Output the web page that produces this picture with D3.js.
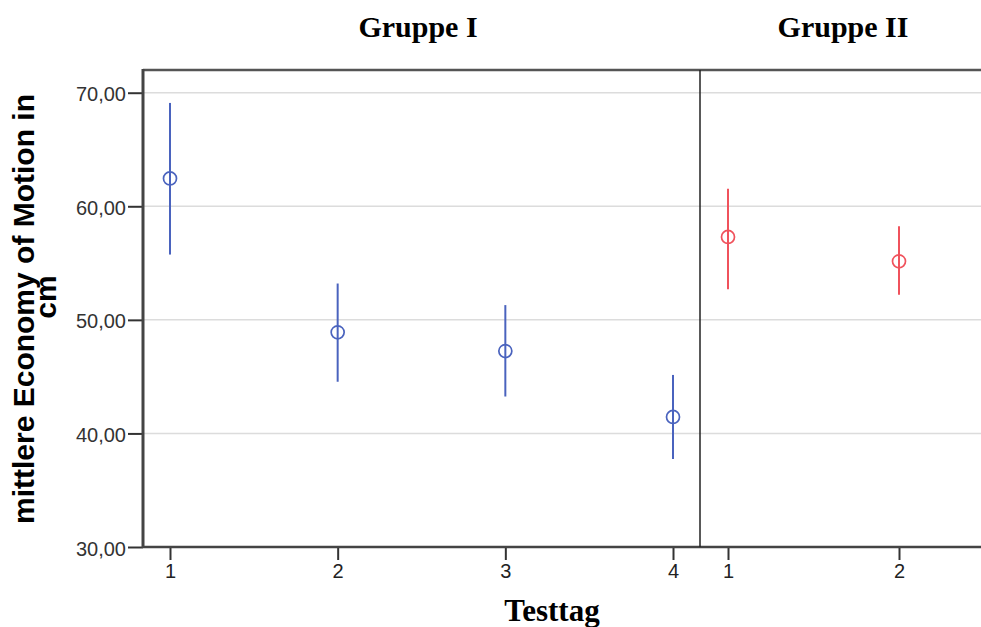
<!DOCTYPE html>
<html>
<head>
<meta charset="utf-8">
<script src="https://cdn.jsdelivr.net/npm/d3@7"></script>
<style>
  html, body { margin: 0; padding: 0; background: #fff; }
  svg { display: block; }
</style>
</head>
<body>
<svg id="chart" width="981" height="627"></svg>
<script>
// Testtag categories per group
const group1Days = ["1", "2", "3", "4"];
const group2Days = ["1", "2"];

// mean and 95% CI bounds (cm)
const group1Mean  = [62.45, 48.9, 47.25, 41.45];
const group1Lower = [55.75, 44.55, 43.25, 37.75];
const group1Upper = [69.1, 53.2, 51.3, 45.15];

const group2Mean  = [57.3, 55.15];
const group2Lower = [52.7, 52.2];
const group2Upper = [61.55, 58.25];

const groupTitles = ["Gruppe I", "Gruppe II"];
const yTicks = [30, 40, 50, 60, 70];

(function () {
const svg = d3.select("#chart");
const W = 981;
const plotTop = 70, plotBottom = 547;
const p1Left = 143, p1Right = 700;
const p2Left = 700;
const sans = "Arial, 'Liberation Sans', sans-serif";
const serif = "'Times New Roman', 'Liberation Serif', serif";

const y = d3.scaleLinear().domain([30, 72]).range([plotBottom, plotTop]);
const fmt = v => d3.format(".2f")(v).replace(".", ",");

const x1 = d3.scalePoint().domain(group1Days).range([p1Left, p1Right]).padding(0.161);
const x2 = d3.scalePoint().domain(group2Days).range([p2Left + 28, p2Left + 199]);

// horizontal gridlines across both panels
svg.append("g")
  .selectAll("line")
  .data(yTicks.filter(t => t > 30))
  .join("line")
  .attr("x1", p1Left).attr("x2", W)
  .attr("y1", d => y(d)).attr("y2", d => y(d))
  .attr("stroke", "#dcdcdc").attr("stroke-width", 1.5);

// y axis
const yAxis = svg.append("g")
  .attr("transform", `translate(${p1Left},0)`)
  .call(d3.axisLeft(y).tickValues(yTicks).tickFormat(fmt).tickSize(15).tickPadding(2));
yAxis.select(".domain").remove();
yAxis.selectAll(".tick line").attr("stroke", "#333").attr("stroke-width", 2);
yAxis.selectAll(".tick text")
  .attr("fill", "#333").attr("font-family", sans)
  .attr("font-size", 20).attr("dy", "0.4em");

// x axes
function xAxis(scale, ticks) {
  const g = svg.append("g")
    .attr("transform", `translate(0,${plotBottom})`)
    .call(d3.axisBottom(scale).tickValues(ticks).tickSize(13).tickPadding(4));
  g.select(".domain").remove();
  g.selectAll(".tick line").attr("stroke", "#333").attr("stroke-width", 2);
  g.selectAll(".tick text")
    .attr("fill", "#222").attr("font-family", sans)
    .attr("font-size", 20);
}
xAxis(x1, group1Days);
xAxis(x2, group2Days);

// frame
svg.append("line").attr("x1", p1Left).attr("x2", W).attr("y1", plotTop).attr("y2", plotTop)
  .attr("stroke", "#555").attr("stroke-width", 2.5);
svg.append("line").attr("x1", p1Left).attr("x2", W).attr("y1", plotBottom).attr("y2", plotBottom)
  .attr("stroke", "#444").attr("stroke-width", 2.5);
svg.append("line").attr("x1", p1Left).attr("x2", p1Left).attr("y1", plotTop - 1).attr("y2", plotBottom + 1)
  .attr("stroke", "#444").attr("stroke-width", 3);
svg.append("line").attr("x1", p2Left).attr("x2", p2Left).attr("y1", plotTop).attr("y2", plotBottom)
  .attr("stroke", "#222").attr("stroke-width", 1.5);

// error bars with mean markers
function drawSeries(scale, days, mean, lower, upper, color) {
  const data = days.map((d, i) => ({ d, m: mean[i], lo: lower[i], hi: upper[i] }));
  const g = svg.append("g");
  g.selectAll("line.err").data(data).join("line")
    .attr("class", "err")
    .attr("x1", d => scale(d.d)).attr("x2", d => scale(d.d))
    .attr("y1", d => y(d.hi)).attr("y2", d => y(d.lo))
    .attr("stroke", color).attr("stroke-width", 2);
  g.selectAll("circle").data(data).join("circle")
    .attr("cx", d => scale(d.d)).attr("cy", d => y(d.m))
    .attr("r", 6.5)
    .attr("fill", "none").attr("stroke", color).attr("stroke-width", 1.7);
}
drawSeries(x1, group1Days, group1Mean, group1Lower, group1Upper, "#4a63be");
drawSeries(x2, group2Days, group2Mean, group2Lower, group2Upper, "#f0525c");

// group titles
svg.selectAll("text.title").data(groupTitles).join("text")
  .attr("class", "title")
  .attr("x", (d, i) => i === 0 ? 418 : 843)
  .attr("y", 37)
  .attr("text-anchor", "middle")
  .attr("font-family", serif).attr("font-weight", "bold").attr("font-size", 30)
  .attr("fill", "#000")
  .text(d => d);

// x axis title
svg.append("text")
  .attr("x", 552).attr("y", 621)
  .attr("text-anchor", "middle")
  .attr("font-family", serif).attr("font-weight", "bold").attr("font-size", 31)
  .attr("fill", "#000")
  .text("Testtag");

// y axis title (two lines)
const yt = svg.append("text")
  .attr("transform", "translate(0,309) rotate(-90)")
  .attr("text-anchor", "middle")
  .attr("font-family", sans)
  .attr("font-weight", "bold").attr("font-size", 30)
  .attr("fill", "#000");
yt.append("tspan").attr("x", 0).attr("y", 34).text("mittlere Economy of Motion in");
yt.append("tspan").attr("x", 12).attr("y", 56).text("cm");
})();
</script>
</body>
</html>
